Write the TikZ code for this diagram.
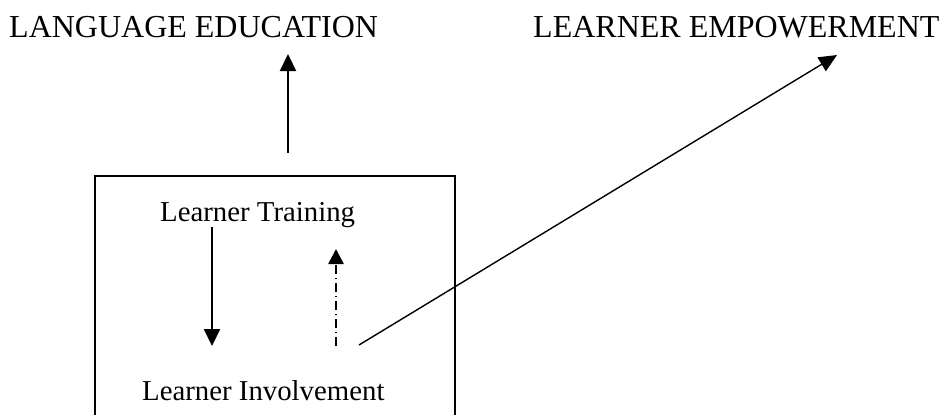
\documentclass[tikz,border=0pt]{standalone}
\usepackage{fontspec}
\setmainfont{Liberation Serif}
\usetikzlibrary{arrows.meta}
\begin{document}
\begin{tikzpicture}[x=1pt,y=-1pt,
  title/.style={anchor=base west,inner sep=0pt,font=\fontsize{32}{36}\selectfont},
  label/.style={anchor=base west,inner sep=0pt,font=\fontsize{28.8}{33}\selectfont},
  arr/.style={line width=2.2pt,-{Triangle[width=16pt,length=17pt]}},
  dasharr/.style={line width=2.6pt,dash pattern=on 9pt off 4pt on 1pt off 4pt,
    -{Triangle[width=15pt,length=15pt]}},
  thin arr/.style={line width=1.4pt,-{Triangle[width=16pt,length=18pt]}}]
\useasboundingbox (0,0) rectangle (943,415);
\fill[white] (0,0) rectangle (943,415);

% headings
\node[title] (edu) at (9,37) {LANGUAGE EDUCATION};
\node[title] (emp) at (533,37) {LEARNER EMPOWERMENT};

% frame, running off the bottom edge
\draw[line width=2.2pt] (95,416) -- (95,176) -- (455,176) -- (455,416);

% texts inside the frame
\node[label] (train) at (160,221) {Learner Training};
\node[label] (inv) at (142,400) {Learner Involvement};

% connector points
\coordinate (upA) at (288,153);
\coordinate (upB) at (288,54);
\coordinate (dnA) at (212,227);
\coordinate (dnB) at (212,346);
\coordinate (dtA) at (336,346);
\coordinate (dtB) at (336,249);
\coordinate (dgA) at (359,345);
\coordinate (dgB) at (837,55);

\draw[arr] (upA) -- (upB);
\draw[arr] (dnA) -- (dnB);
\draw[dasharr] (dtA) -- (dtB);
\draw[thin arr] (dgA) -- (dgB);
\end{tikzpicture}
\end{document}
